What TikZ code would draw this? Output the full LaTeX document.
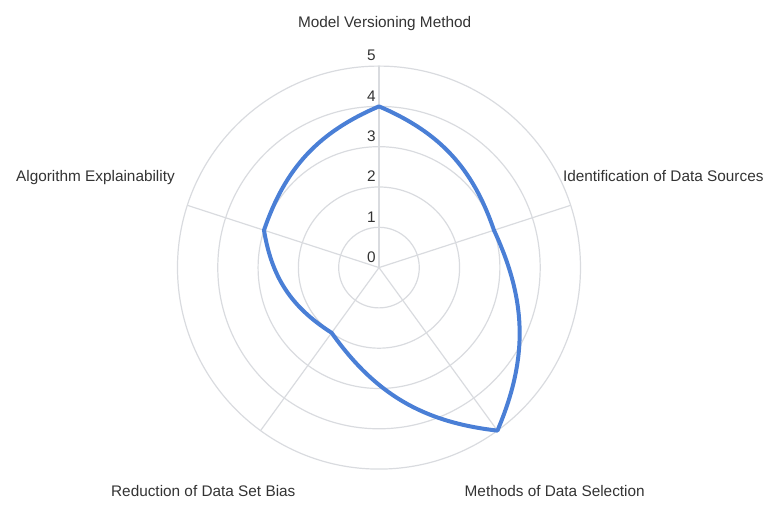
\documentclass[tikz,border=0pt]{standalone}
\usepackage{fontspec}
\setmainfont{Liberation Sans}
\definecolor{gridgray}{HTML}{D9DBDF}
\definecolor{lineblue}{HTML}{4A7FD6}
\definecolor{labelgray}{HTML}{333333}
\begin{document}
\begin{tikzpicture}[x=30.2pt, y=30.2pt,
  grid/.style={gridgray, line width=0.9pt},
  dataline/.style={lineblue, line width=3pt, line join=round, line cap=round},
  catlabel/.style={text=labelgray, font=\fontsize{11.5}{13}\selectfont, inner sep=0pt},
  ticklabel/.style={text=labelgray, font=\fontsize{11.5}{13}\selectfont, inner sep=0pt, anchor=base east}]
\useasboundingbox (-9.404,-6.015) rectangle (9.901,6.640);
\coordinate (c) at (0,0);
\foreach \r in {1,...,5}
  \draw[grid] (c) circle[radius=\r];
\foreach \a/\n in {90/mvm,18/ids,-54/mds,-126/rdb,162/ae}
  \draw[grid] (c) -- (\a:5) coordinate (end-\n);
\foreach \v in {0,...,5}
  \node[ticklabel] (tick\v) at (-0.075,\v+0.13) {\v};
\node[catlabel, anchor=base] (mvm) at (0.14, 5.953) {Model Versioning Method};
\node[catlabel, anchor=base west] (ids) at (4.56, 2.124) {Identification of Data Sources};
\node[catlabel, anchor=base] (mds) at (4.36, -5.675) {Methods of Data Selection};
\node[catlabel, anchor=base] (rdb) at (-4.36, -5.675) {Reduction of Data Set Bias};
\node[catlabel, anchor=base east] (ae) at (-5.06, 2.124) {Algorithm Explainability};
\coordinate (p-mvm) at (90:4);
\coordinate (p-ids) at (18:3);
\coordinate (p-mds) at (-54:5);
\coordinate (p-rdb) at (-126:2);
\coordinate (p-ae) at (162:3);
\draw[dataline] (p-mvm) to[bend left=24] (p-ids) to[bend left=24] (p-mds)
  to[bend left=24] (p-rdb) to[bend left=24] (p-ae) to[bend left=24] (p-mvm);
\end{tikzpicture}
\end{document}
